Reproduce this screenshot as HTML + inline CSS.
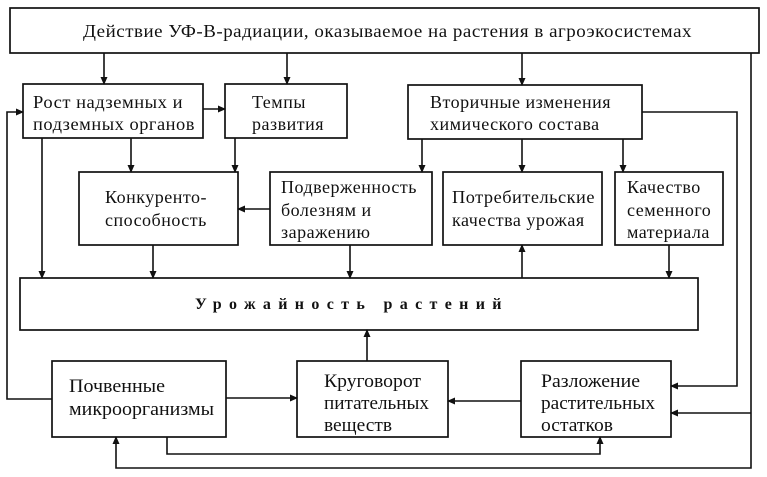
<!DOCTYPE html>
<html><head><meta charset="utf-8"><style>
html,body{margin:0;padding:0;background:#fff;}
svg{display:block;}
text{font-family:"Liberation Serif","DejaVu Serif",serif;font-size:18px;letter-spacing:0.5px;fill:#111;}
.b{font-size:19px;letter-spacing:0;}
</style></head><body>
<svg width="767" height="477" viewBox="0 0 767 477" xmlns="http://www.w3.org/2000/svg">
<defs><marker id="a" markerWidth="8" markerHeight="8" refX="7" refY="4" orient="auto" markerUnits="userSpaceOnUse"><path d="M0,0.5 L8,4 L0,7.5 Z" fill="#111"/></marker></defs>
<g fill="none" stroke="#111" stroke-width="1.7">
<rect x="10" y="8" width="749" height="45"/>
<rect x="23" y="84" width="180" height="54"/>
<rect x="225" y="84" width="122" height="54"/>
<rect x="408" y="85" width="234" height="54"/>
<rect x="79" y="172" width="159" height="73"/>
<rect x="270" y="172" width="162" height="73"/>
<rect x="443" y="172" width="159" height="73"/>
<rect x="615" y="172" width="108" height="73"/>
<rect x="20" y="278" width="678" height="52"/>
<rect x="52" y="361" width="174" height="76"/>
<rect x="297" y="361" width="151" height="76"/>
<rect x="521" y="361" width="150" height="76"/>
</g>
<g fill="none" stroke="#111" stroke-width="1.6" marker-end="url(#a)">
<line x1="104" y1="53" x2="104" y2="84"/>
<line x1="287" y1="53" x2="287" y2="84"/>
<line x1="522" y1="53" x2="522" y2="85"/>
<line x1="203" y1="109" x2="225" y2="109"/>
<line x1="131" y1="138" x2="131" y2="172"/>
<line x1="235" y1="138" x2="235" y2="172"/>
<line x1="270" y1="209" x2="238" y2="209"/>
<line x1="422" y1="139" x2="422" y2="172"/>
<line x1="522" y1="139" x2="522" y2="172"/>
<line x1="623" y1="139" x2="623" y2="172"/>
<line x1="42" y1="138" x2="42" y2="278"/>
<line x1="153" y1="245" x2="153" y2="278"/>
<line x1="350" y1="245" x2="350" y2="278"/>
<line x1="522" y1="278" x2="522" y2="245"/>
<line x1="669" y1="245" x2="669" y2="278"/>
<line x1="367" y1="361" x2="367" y2="330"/>
<line x1="226" y1="398" x2="297" y2="398"/>
<line x1="521" y1="401" x2="448" y2="401"/>
<polyline points="52,399 7,399 7,112 23,112"/>
<polyline points="642,112 737,112 737,386 671,386"/>
<polyline points="751,413 671,413"/>
<polyline points="751,53 751,468 116,468 116,437"/>
<polyline points="167,437 167,454 600,454 600,437"/>
</g>
<text x="83" y="37" textLength="609" lengthAdjust="spacingAndGlyphs">Действие УФ-В-радиации, оказываемое на растения в агроэкосистемах</text>
<text x="33" y="108" textLength="150" lengthAdjust="spacingAndGlyphs">Рост надземных и</text>
<text x="33" y="130" textLength="162" lengthAdjust="spacingAndGlyphs">подземных органов</text>
<text x="252" y="108">Темпы</text>
<text x="252" y="130">развития</text>
<text x="430" y="108">Вторичные изменения</text>
<text x="430" y="130">химического состава</text>
<text x="105" y="203">Конкуренто-</text>
<text x="105" y="226">способность</text>
<text x="281" y="193">Подверженность</text>
<text x="281" y="216">болезням и</text>
<text x="281" y="238">заражению</text>
<text x="452" y="203" textLength="143" lengthAdjust="spacingAndGlyphs">Потребительские</text>
<text x="452" y="226">качества урожая</text>
<text x="627" y="193">Качество</text>
<text x="627" y="216">семенного</text>
<text x="627" y="238">материала</text>
<text x="195" y="309" textLength="307" lengthAdjust="spacing" style="font-weight:bold;font-size:16px">Урожайность растений</text>
<text class="b" x="69" y="392" textLength="96" lengthAdjust="spacingAndGlyphs">Почвенные</text>
<text class="b" x="69" y="415" textLength="145" lengthAdjust="spacingAndGlyphs">микроорганизмы</text>
<text class="b" x="324" y="387" textLength="97" lengthAdjust="spacingAndGlyphs">Круговорот</text>
<text class="b" x="324" y="409" textLength="105" lengthAdjust="spacingAndGlyphs">питательных</text>
<text class="b" x="324" y="431" textLength="68" lengthAdjust="spacingAndGlyphs">веществ</text>
<text class="b" x="541" y="387" textLength="99" lengthAdjust="spacingAndGlyphs">Разложение</text>
<text class="b" x="541" y="409" textLength="114" lengthAdjust="spacingAndGlyphs">растительных</text>
<text class="b" x="541" y="431" textLength="72" lengthAdjust="spacingAndGlyphs">остатков</text>
</svg>
</body></html>
